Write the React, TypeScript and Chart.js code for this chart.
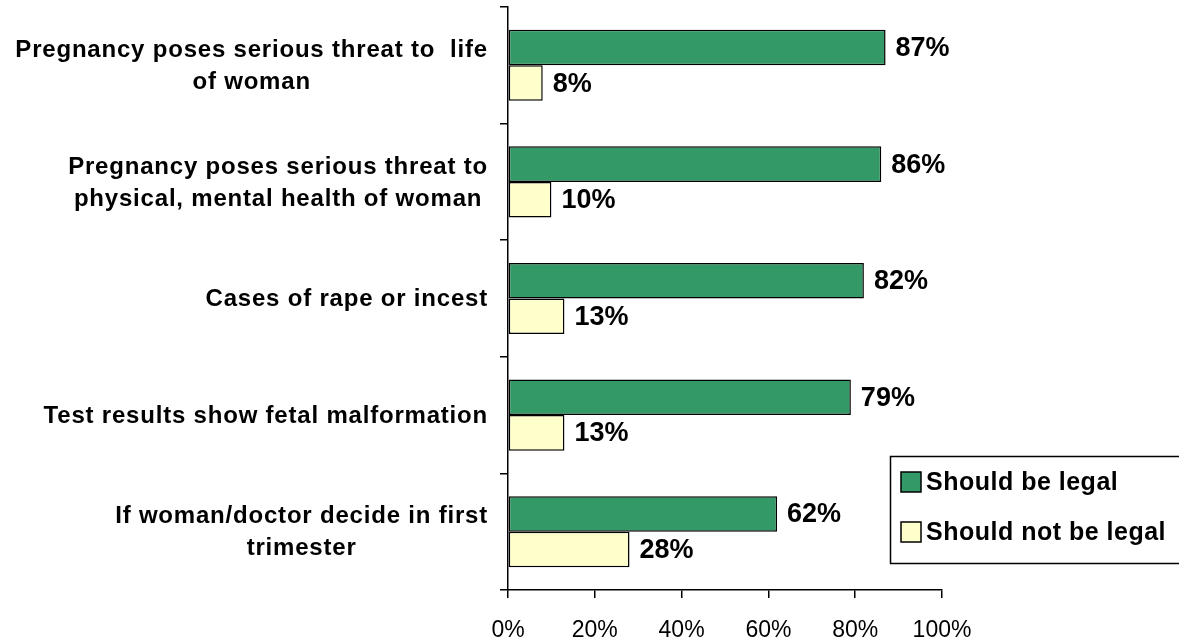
import React, { useEffect, useRef } from "react";
import { Chart, registerables } from "chart.js";
Chart.register(...registerables);

const categories: string[][] = [
  ["Pregnancy poses serious threat to  life", "of woman"],
  ["Pregnancy poses serious threat to", "physical, mental health of woman"],
  ["Cases of rape or incest"],
  ["Test results show fetal malformation"],
  ["If woman/doctor decide in first", "trimester"],
];
const seriesNames = ["Should be legal", "Should not be legal"];
const legalValues = [87, 86, 82, 79, 62];
const notLegalValues = [8, 10, 13, 13, 28];
const xTickValues = [0, 20, 40, 60, 80, 100];

const GREEN = "#339966";
const YELLOW = "#FFFFCC";
const FONT = "'Liberation Sans', Arial, sans-serif";

const customDraw = {
  id: "customDraw",
  afterDatasetsDraw(chart: any) {
    const ctx = chart.ctx as CanvasRenderingContext2D;
    ctx.save();
    ctx.fillStyle = "#000";
    ctx.font = `bold 27px ${FONT}`;
    ctx.textAlign = "left";
    ctx.textBaseline = "middle";
    chart.data.datasets.forEach((ds: any, di: number) => {
      const meta = chart.getDatasetMeta(di);
      meta.data.forEach((el: any, i: number) => {
        ctx.fillText(ds.data[i] + "%", el.x + 10, el.y + 1);
      });
    });
    ctx.restore();
  },
  afterDraw(chart: any) {
    const ctx = chart.ctx as CanvasRenderingContext2D;
    const yScale = chart.scales.y;
    ctx.save();
    ctx.fillStyle = "#000";
    ctx.font = `bold 24px ${FONT}`;
    (ctx as any).letterSpacing = "0.8px";
    ctx.textBaseline = "middle";
    ctx.textAlign = "center";
    const rightEdge = yScale.right - 20;
    const lh = 32;
    categories.forEach((lines, i) => {
      const cy = yScale.getPixelForTick(i);
      const w = Math.max(...lines.map((l) => ctx.measureText(l).width));
      const cx = rightEdge - w / 2;
      lines.forEach((l, j) => {
        ctx.fillText(l, cx, cy + (j - (lines.length - 1) / 2) * lh + 1);
      });
    });
    // legend
    (ctx as any).letterSpacing = "0.5px";
    ctx.lineWidth = 1.5;
    ctx.strokeStyle = "#000";
    ctx.strokeRect(890.5, 456.5, 300, 107);
    ctx.font = `bold 25px ${FONT}`;
    ctx.textAlign = "left";
    const colors = [GREEN, YELLOW];
    chart.data.datasets.forEach((ds: any, di: number) => {
      const cy = 482 + di * 50;
      ctx.fillStyle = colors[di];
      ctx.fillRect(901, cy - 10, 20, 20);
      ctx.strokeRect(901, cy - 10, 20, 20);
      ctx.fillStyle = "#000";
      ctx.fillText(ds.label, 926, cy + 1);
    });
    ctx.restore();
  },
};

export default function App() {
  const ref = useRef<HTMLCanvasElement | null>(null);
  useEffect(() => {
    document.body.style.margin = "0";
    if (!ref.current) return;
    const chart = new Chart(ref.current, {
      type: "bar",
      data: {
        labels: categories.map((c) => c.join(" ")),
        datasets: [
          {
            label: seriesNames[0],
            data: legalValues,
            backgroundColor: GREEN,
            borderColor: "#000",
            borderWidth: 1.5,
            borderSkipped: false,
            categoryPercentage: 0.61,
            barPercentage: 1,
          },
          {
            label: seriesNames[1],
            data: notLegalValues,
            backgroundColor: YELLOW,
            borderColor: "#000",
            borderWidth: 1.5,
            borderSkipped: false,
            categoryPercentage: 0.61,
            barPercentage: 1,
          },
        ],
      },
      options: {
        indexAxis: "y",
        responsive: false,
        animation: false,
        layout: { padding: { top: 7, right: 237, left: 0, bottom: 0 } },
        plugins: { legend: { display: false }, tooltip: { enabled: false } },
        scales: {
          y: {
            type: "category",
            offset: true,
            grid: {
              display: true,
              drawOnChartArea: false,
              drawTicks: true,
              tickLength: 8,
              color: "#000",
              lineWidth: 1.5,
              offset: true,
            },
            border: { display: true, color: "#000", width: 1.5 },
            ticks: { display: false },
            afterFit: (s: any) => {
              s.width = 508;
            },
          },
          x: {
            min: 0,
            max: 100,
            afterBuildTicks: (s: any) => {
              s.ticks = xTickValues.map((v) => ({ value: v }));
            },
            ticks: {
              callback: (v: any) => v + "%",
              font: { size: 23, family: FONT },
              color: "#000",
              padding: 19,
              maxRotation: 0,
            },
            grid: {
              drawOnChartArea: false,
              drawTicks: true,
              tickLength: 8,
              color: "#000",
              lineWidth: 1.5,
            },
            border: { display: true, color: "#000", width: 1.5 },
            afterFit: (s: any) => {
              s.height = 51;
            },
          },
        },
      },
      plugins: [customDraw],
    } as any);
    return () => chart.destroy();
  }, []);
  return <canvas ref={ref} width={1179} height={641} style={{ display: "block" }} />;
}
